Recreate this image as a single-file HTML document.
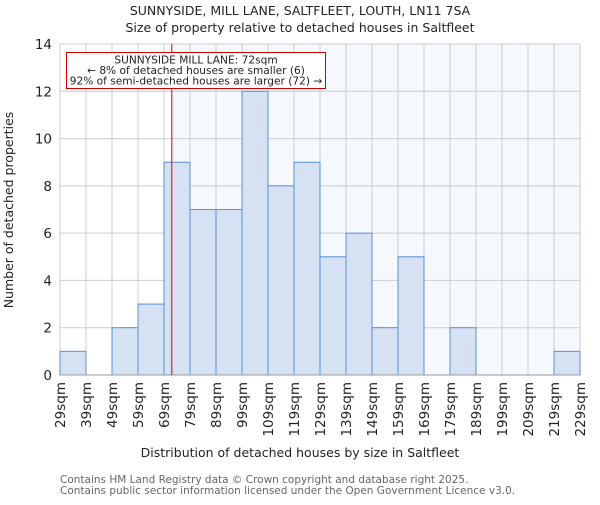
<!DOCTYPE html>
<html><head><meta charset="utf-8"><style>
body{margin:0;background:#fff;}
svg text{font-family:"DejaVu Sans","Liberation Sans",sans-serif;}
</style></head><body>
<svg width="600" height="500" xmlns="http://www.w3.org/2000/svg">
<text x="300" y="15" text-anchor="middle" font-size="12.5" fill="#222">SUNNYSIDE, MILL LANE, SALTFLEET, LOUTH, LN11 7SA</text>
<text x="300" y="32" text-anchor="middle" font-size="12.5" fill="#222">Size of property relative to detached houses in Saltfleet</text>
<g id="plot"></g>
<text x="300" y="457" text-anchor="middle" font-size="12.5" fill="#222">Distribution of detached houses by size in Saltfleet</text>
<text transform="translate(13,210) rotate(-90)" text-anchor="middle" font-size="12.5" fill="#222">Number of detached properties</text>
<text x="60" y="483" font-size="10.5" fill="#666">Contains HM Land Registry data © Crown copyright and database right 2025.</text>
<text x="60" y="494" font-size="10.5" fill="#666">Contains public sector information licensed under the Open Government Licence v3.0.</text>
</svg>
<script>
const binStarts=[29,39,49,59,69,79,89,99,109,119,129,139,149,159,169,179,189,199,209,219];
const counts=[1,0,2,3,9,7,7,12,8,9,5,6,2,5,0,2,0,0,0,1];
const yTicks=[0,2,4,6,8,10,12,14];
const xTickLabels=["29sqm","39sqm","49sqm","59sqm","69sqm","79sqm","89sqm","99sqm","109sqm","119sqm","129sqm","139sqm","149sqm","159sqm","169sqm","179sqm","189sqm","199sqm","209sqm","219sqm","229sqm"];
const subjectSize=72;
const L=60,R=580,T=44,B=375,xMin=29,xMax=229,yMax=14;
const xs=v=>L+(v-xMin)/(xMax-xMin)*(R-L);
const ys=v=>B-v/yMax*(B-T);
const NS="http://www.w3.org/2000/svg";
const g=document.getElementById('plot');
function mk(t,a){const e=document.createElementNS(NS,t);for(const k in a)e.setAttribute(k,a[k]);g.appendChild(e);return e;}
const hx=xs(subjectSize);
let e=mk('rect',{x:hx,y:T,width:R-hx,height:B-T,fill:'#f5f8fd'});


xTickLabels.forEach((lab,i)=>{const x=xs(xMin+i*10);
 let l=mk('line',{x1:x,x2:x,y1:T,y2:B,stroke:'#ccc','stroke-width':1});
 
 
 let t=mk('text',{transform:`translate(${x+5},382) rotate(-90)`,'text-anchor':'end','font-size':'13.5',fill:'#222'});
 t.textContent=lab;
 
 
});
yTicks.forEach(v=>{const y=ys(v);
 let l=mk('line',{x1:L,x2:R,y1:y,y2:y,stroke:'#ccc','stroke-width':1});
 
 
 let t=mk('text',{x:L-8,y:y+5,'text-anchor':'end','font-size':'13.5',fill:'#222'});
 t.textContent=v;
 
 
});
binStarts.forEach((s,i)=>{if(!counts[i])return;
 let r=mk('rect',{x:xs(s),y:ys(counts[i]),width:xs(s+10)-xs(s),height:B-ys(counts[i]),fill:'#d6e2f4',stroke:'#5b8fd6','stroke-width':1});
 
 
});
e=mk('line',{x1:L,x2:R,y1:B,y2:B,stroke:'#999'});


e=mk('line',{x1:hx,x2:hx,y1:T,y2:B,stroke:'#d00','stroke-width':1});


e=mk('rect',{x:66.5,y:52.5,width:259,height:36,fill:'#fff',stroke:'#c00','stroke-width':1});


["SUNNYSIDE MILL LANE: 72sqm","← 8% of detached houses are smaller (6)","92% of semi-detached houses are larger (72) →"].forEach((s,i)=>{
 let t=mk('text',{x:196,y:63.5+i*10.5,'text-anchor':'middle','font-size':'10.6',fill:'#222'});
 t.textContent=s;
 
 
});
</script>
</body></html>
